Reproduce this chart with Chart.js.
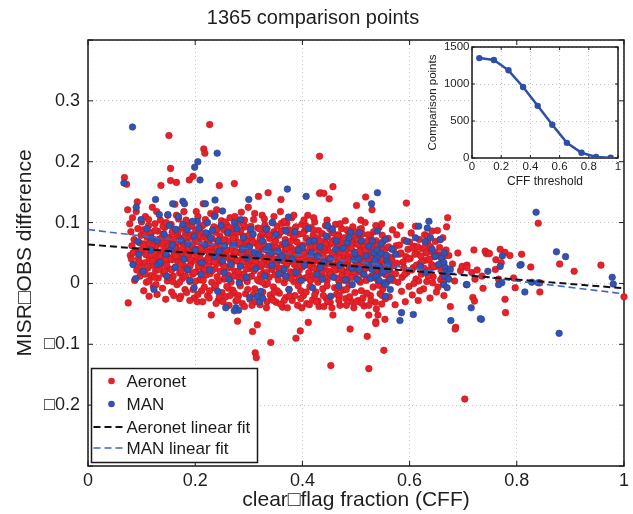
<!DOCTYPE html>
<html><head><meta charset="utf-8">
<script src="https://cdn.jsdelivr.net/npm/chart.js@4.4.0/dist/chart.umd.min.js"></script>
<style>
html,body{margin:0;padding:0;background:#fff;}
#wrap{position:relative;width:633px;height:514px;overflow:hidden;}
#main{position:absolute;left:0;top:0;}
#inset{position:absolute;left:422px;top:36px;}
</style></head><body>
<div id="wrap"><canvas id="main" width="633" height="514"></canvas><canvas id="inset" width="205" height="160"></canvas></div>
<script>
// ---------------- data ----------------
const chartTitle = '1365 comparison points';
const xAxisTitle = 'clear\u25A1flag fraction (CFF)';
const yAxisTitle = 'MISR\u25A1OBS difference';

// [CFF, MISR-OBS difference]
const aeronetPoints = [
[0.068,0.174],[0.072,0.163],[0.075,-0.032],[0.074,0.121],[0.078,0.098],[0.080,0.085],[0.082,0.062],[0.079,0.046],[0.083,0.108],[0.085,0.031],[0.086,0.072],[0.088,0.054],[0.090,0.118],[0.091,0.022],[0.093,0.090],[0.094,0.041],[0.096,0.067],[0.097,0.012],[0.099,0.079],[0.100,0.101],[0.087,0.005],[0.092,0.134],[0.084,0.050],[0.098,0.028],[0.081,0.040],
[0.101,0.052],[0.102,0.018],[0.103,0.088],[0.104,-0.012],[0.105,0.065],[0.106,0.034],[0.107,0.110],[0.108,0.047],[0.109,0.002],[0.110,0.076],[0.111,0.025],[0.112,0.058],[0.113,0.095],[0.114,-0.021],[0.115,0.040],[0.116,0.069],[0.117,0.013],[0.118,0.083],[0.119,0.030],[0.120,0.125],[0.121,0.055],[0.122,-0.005],[0.123,0.072],[0.124,0.038],[0.125,0.098],[0.126,0.021],[0.127,0.061],[0.128,0.044],[0.129,-0.018],[0.130,0.086],[0.131,0.009],[0.132,0.050],[0.133,0.073],[0.134,0.028],[0.135,0.104],[0.136,0.161],[0.137,0.036],[0.138,0.064],[0.139,-0.008],[0.140,0.081],[0.141,0.016],[0.142,0.047],[0.143,0.092],[0.144,0.057],[0.145,-0.026],[0.146,0.033],[0.147,0.069],[0.148,0.004],[0.149,0.112],[0.150,0.043],
[0.151,0.243],[0.154,0.189],[0.154,0.169],[0.165,0.166],[0.151,0.075],[0.152,0.024],[0.153,0.058],[0.155,0.097],[0.156,-0.014],[0.157,0.039],[0.158,0.071],[0.159,0.012],[0.160,0.088],[0.161,0.049],[0.162,0.130],[0.163,0.027],[0.164,0.062],[0.166,-0.002],[0.167,0.080],[0.168,0.035],[0.169,0.106],[0.170,0.053],[0.171,0.017],[0.172,0.074],[0.173,-0.021],[0.174,0.044],[0.175,0.091],[0.176,0.008],[0.177,0.066],[0.178,0.030],[0.179,0.118],[0.180,0.055],[0.181,-0.010],[0.182,0.083],[0.183,0.041],[0.184,-0.015],[0.185,0.069],[0.186,0.022],[0.187,0.100],[0.188,0.048],[0.189,0.170],[0.190,0.003],[0.191,0.077],[0.192,0.033],[0.193,0.060],[0.194,0.094],[0.195,0.015],[0.196,0.176],[0.197,0.051],[0.198,-0.024],[0.199,0.072],[0.200,0.038],
[0.201,0.087],[0.202,0.019],[0.203,0.056],[0.204,-0.030],[0.205,0.110],[0.206,0.043],[0.207,0.068],[0.208,0.006],[0.209,0.031],[0.210,0.092],[0.211,0.050],[0.212,-0.012],[0.213,0.076],[0.214,0.025],[0.215,0.131],[0.216,0.221],[0.218,0.214],[0.217,0.061],[0.219,0.037],[0.220,0.099],[0.221,0.014],[0.222,0.054],[0.223,-0.020],[0.224,0.081],[0.225,0.029],[0.226,0.065],[0.227,0.261],[0.228,0.046],[0.229,0.115],[0.230,-0.052],[0.231,0.002],[0.232,0.073],[0.233,0.036],[0.234,0.090],[0.235,0.058],[0.236,-0.007],[0.237,0.024],[0.238,0.084],[0.239,0.048],[0.240,0.121],[0.241,0.011],[0.242,0.066],[0.243,-0.028],[0.244,0.039],[0.245,0.161],[0.246,0.078],[0.247,0.020],[0.248,0.052],[0.249,0.103],[0.250,-0.015],
[0.251,0.062],[0.252,0.031],[0.253,0.088],[0.254,0.007],[0.255,0.045],[0.256,0.072],[0.257,-0.022],[0.258,0.026],[0.259,0.096],[0.260,0.054],[0.261,0.014],[0.262,0.069],[0.263,-0.036],[0.264,0.040],[0.265,0.108],[0.266,0.081],[0.267,0.002],[0.268,0.033],[0.269,0.059],[0.270,-0.011],[0.271,0.090],[0.272,0.047],[0.273,0.164],[0.274,0.020],[0.275,0.075],[0.276,-0.029],[0.277,0.037],[0.278,0.063],[0.279,-0.062],[0.280,0.100],[0.281,0.010],[0.282,0.051],[0.283,0.084],[0.284,-0.004],[0.285,0.029],[0.286,0.117],[0.287,0.066],[0.288,-0.033],[0.289,0.042],[0.290,0.078],[0.291,0.016],[0.292,0.056],[0.293,0.093],[0.294,-0.017],[0.295,0.035],[0.296,0.070],[0.297,0.003],[0.298,0.048],[0.299,0.125],[0.300,0.024],
[0.301,0.061],[0.302,-0.026],[0.303,0.087],[0.304,0.039],[0.305,0.012],[0.306,0.073],[0.307,-0.079],[0.308,0.050],[0.309,0.105],[0.310,0.021],[0.311,-0.009],[0.312,-0.114],[0.314,-0.122],[0.313,0.066],[0.315,0.034],[0.316,-0.068],[0.317,0.091],[0.318,0.143],[0.319,0.004],[0.320,0.055],[0.321,-0.035],[0.322,0.078],[0.323,0.027],[0.324,0.044],[0.325,0.112],[0.326,-0.014],[0.327,0.068],[0.328,0.017],[0.329,0.038],[0.330,0.096],[0.331,-0.002],[0.332,0.058],[0.333,0.080],[0.334,-0.030],[0.335,0.030],[0.336,0.149],[0.337,0.048],[0.338,0.010],[0.339,0.074],[0.340,-0.019],[0.341,-0.097],[0.342,0.062],[0.343,0.023],[0.344,0.100],[0.345,0.041],[0.346,-0.006],[0.347,0.085],[0.348,0.052],[0.349,0.014],[0.350,0.070],
[0.351,-0.031],[0.352,0.033],[0.353,0.094],[0.354,0.057],[0.355,0.006],[0.356,0.079],[0.357,-0.016],[0.358,0.045],[0.359,0.118],[0.360,0.138],[0.361,0.025],[0.362,0.064],[0.363,-0.039],[0.364,0.037],[0.365,0.088],[0.366,0.001],[0.367,0.053],[0.368,0.072],[0.369,-0.023],[0.370,0.029],[0.371,0.099],[0.372,0.046],[0.373,0.011],[0.374,0.067],[0.375,-0.010],[0.376,0.083],[0.377,0.036],[0.378,0.019],[0.379,0.058],[0.380,0.108],[0.381,-0.028],[0.382,0.042],[0.383,0.075],[0.384,0.003],[0.385,0.031],[0.386,0.090],[0.387,0.050],[0.388,-0.090],[0.389,0.015],[0.390,0.068],[0.391,-0.036],[0.392,0.039],[0.393,0.081],[0.394,0.022],[0.395,0.060],[0.396,-0.078],[0.397,-0.012],[0.398,0.047],[0.399,0.097],[0.400,0.027],
[0.401,0.063],[0.402,-0.020],[0.403,0.034],[0.404,0.086],[0.405,0.009],[0.406,0.052],[0.407,0.074],[0.408,-0.033],[0.409,0.040],[0.410,0.112],[0.411,-0.064],[0.412,0.018],[0.413,0.066],[0.414,-0.005],[0.415,0.046],[0.416,0.092],[0.417,0.028],[0.418,0.057],[0.419,-0.027],[0.420,0.079],[0.421,0.013],[0.422,0.037],[0.423,0.101],[0.424,0.061],[0.425,-0.014],[0.426,0.024],[0.427,0.071],[0.428,0.045],[0.429,0.002],[0.430,0.087],[0.431,-0.038],[0.432,0.209],[0.432,0.148],[0.433,0.032],[0.434,0.149],[0.435,0.059],[0.436,0.016],[0.437,0.082],[0.438,-0.009],[0.439,0.049],[0.440,0.148],[0.441,0.026],[0.442,0.068],[0.443,0.095],[0.444,-0.024],[0.445,0.038],[0.446,0.005],[0.447,0.076],[0.448,0.054],[0.449,0.020],[0.450,0.139],
[0.451,0.064],[0.452,-0.031],[0.453,-0.135],[0.454,0.043],[0.455,0.085],[0.456,0.012],[0.457,0.159],[0.457,-0.052],[0.458,0.030],[0.459,0.071],[0.460,-0.007],[0.461,0.050],[0.462,0.097],[0.463,0.022],[0.464,-0.018],[0.465,0.060],[0.466,0.035],[0.467,0.080],[0.468,0.004],[0.469,0.046],[0.470,-0.036],[0.471,0.068],[0.472,0.027],[0.473,0.090],[0.474,0.014],[0.475,0.055],[0.476,-0.011],[0.477,0.039],[0.478,0.075],[0.479,0.019],[0.480,0.103],[0.481,-0.025],[0.482,0.048],[0.483,0.063],[0.484,0.007],[0.485,0.032],[0.486,0.084],[0.487,-0.003],[0.488,0.057],[0.489,-0.075],[0.490,0.024],[0.491,0.070],[0.492,-0.030],[0.493,0.042],[0.494,0.093],[0.495,0.011],[0.496,0.052],[0.497,0.078],[0.498,-0.015],[0.499,0.036],[0.500,0.065],
[0.501,0.128],[0.502,0.018],[0.503,0.047],[0.504,-0.028],[0.505,0.073],[0.506,0.029],[0.507,0.089],[0.508,0.002],[0.509,0.058],[0.510,-0.012],[0.511,0.038],[0.512,0.081],[0.513,0.015],[0.514,0.063],[0.515,-0.037],[0.516,0.044],[0.517,0.100],[0.518,0.142],[0.519,0.025],[0.520,0.069],[0.521,-0.087],[0.522,0.008],[0.523,0.053],[0.524,-0.140],[0.524,-0.052],[0.525,0.033],[0.526,0.077],[0.527,-0.020],[0.528,0.046],[0.529,0.012],[0.530,0.121],[0.531,0.060],[0.532,-0.006],[0.533,0.085],[0.534,0.027],[0.535,0.041],[0.536,-0.031],[0.537,-0.063],[0.537,-0.066],[0.538,0.070],[0.539,0.019],[0.540,0.055],[0.541,-0.052],[0.542,0.003],[0.543,0.092],[0.544,0.036],[0.545,-0.017],[0.546,0.064],[0.547,0.022],[0.548,0.048],[0.549,0.079],[0.550,-0.009],[0.552,-0.110],[0.553,0.031],[0.554,-0.059],[0.555,0.057],[0.556,0.014],
[0.560,0.074],[0.562,-0.022],[0.564,0.043],[0.566,0.010],[0.568,0.088],[0.571,0.029],[0.573,-0.035],[0.575,0.062],[0.578,0.002],[0.580,0.048],[0.583,0.095],[0.585,-0.013],[0.588,0.035],[0.590,0.071],[0.592,-0.030],[0.594,0.132],[0.595,0.018],[0.597,0.056],[0.599,-0.005],
[0.601,0.041],[0.603,0.083],[0.605,-0.019],[0.607,0.026],[0.609,0.061],[0.611,0.094],[0.612,0.007],[0.614,0.049],[0.616,-0.028],[0.618,0.072],[0.620,0.033],[0.622,0.015],[0.624,0.057],[0.626,-0.009],[0.628,0.080],[0.630,0.038],[0.632,0.003],[0.634,0.066],[0.636,0.022],[0.638,-0.024],[0.640,0.052],[0.642,0.086],[0.644,0.011],[0.646,0.044],[0.648,0.069],[0.650,-0.014],[0.652,0.087],[0.654,0.030],[0.656,0.059],[0.658,0.006],[0.660,0.040],[0.662,0.075],[0.664,-0.020],[0.666,0.025],[0.669,0.093],[0.671,0.108],[0.668,0.055],[0.670,0.012],[0.673,0.046],[0.676,-0.038],[0.686,-0.072],[0.685,-0.075],
[0.680,0.032],[0.684,0.004],[0.690,0.050],[0.695,0.021],[0.698,0.028],[0.703,-0.190],[0.707,0.030],[0.707,0.026],[0.716,0.018],[0.718,-0.023],[0.720,0.055],[0.721,-0.029],[0.722,0.007],[0.726,0.022],[0.735,0.012],[0.737,-0.008],[0.741,0.053],[0.743,0.049],[0.747,0.050],[0.749,0.049],[0.760,0.023],[0.761,0.039],[0.766,0.007],[0.769,0.056],[0.771,0.034],[0.778,0.051],[0.778,-0.026],[0.779,-0.048],[0.787,0.046],[0.794,0.009],[0.797,-0.007],[0.809,0.048],[0.826,0.027],[0.840,0.099],[0.843,-0.014],[0.843,0.001],[0.880,0.032],[0.907,0.020],[0.957,0.030],[1.000,-0.022],
[0.095,0.035],[0.104,0.062],[0.112,0.028],[0.118,0.047],[0.124,0.010],[0.131,0.068],[0.137,0.052],[0.143,0.020],[0.148,0.075],[0.153,0.040],[0.158,0.003],[0.162,0.058],[0.168,0.085],[0.172,0.031],[0.177,0.049],[0.182,0.012],[0.186,0.066],[0.191,0.040],[0.196,-0.010],[0.201,0.070],[0.206,0.028],[0.211,0.058],[0.215,0.005],[0.219,0.079],[0.224,0.042],[0.228,0.016],[0.233,0.060],[0.238,-0.004],[0.242,0.033],[0.246,0.072],[0.251,0.047],[0.256,0.011],[0.260,0.083],[0.264,0.026],[0.269,0.054],[0.273,-0.016],[0.278,0.038],[0.282,0.067],[0.287,0.008],[0.291,0.045],[0.296,0.024],[0.300,0.079],[0.305,0.049],[0.309,-0.018],[0.313,0.036],[0.318,0.060],[0.322,0.014],[0.326,0.084],[0.331,0.040],[0.335,0.000],[0.340,0.053],[0.344,0.026],[0.349,0.068],[0.353,-0.012],[0.358,0.043],[0.362,0.016],[0.367,0.063],[0.371,0.033],[0.376,-0.020],[0.380,0.051],[0.385,0.077],[0.389,0.023],[0.394,0.004],[0.398,0.060],[0.403,0.036],[0.407,-0.014],[0.412,0.046],[0.416,0.071],[0.421,0.025],[0.425,0.008],[0.430,0.054],[0.434,0.032],[0.439,-0.020],[0.443,0.064],[0.448,0.041],[0.452,0.015],[0.457,0.083],[0.461,0.029],[0.466,-0.008],[0.470,0.052],[0.475,0.036],[0.479,0.062],[0.484,0.018],[0.488,-0.022],[0.493,0.045],[0.497,0.027],[0.502,0.071],[0.506,0.005],[0.511,0.050],[0.515,0.024],[0.520,-0.016],[0.524,0.038],[0.529,0.066],[0.533,0.013],[0.538,0.044],[0.542,-0.003],[0.547,0.058],[0.551,0.030],[0.557,0.046],[0.563,0.020],[0.570,0.057],[0.577,0.033],[0.586,0.010],[0.593,0.044],[0.604,0.022],[0.610,0.048],[0.617,0.004],[0.623,0.036],[0.629,0.060],[0.635,0.012],[0.641,0.031],[0.647,0.051],[0.653,-0.006],[0.659,0.022],[0.665,0.045],
[0.098,0.055],[0.107,0.015],[0.116,0.082],[0.121,0.037],[0.127,-0.002],[0.134,0.045],[0.140,0.094],[0.146,0.030],[0.150,0.061],[0.156,0.022],[0.160,0.073],[0.166,0.044],[0.171,0.002],[0.175,0.056],[0.180,0.096],[0.184,0.025],[0.189,0.052],[0.194,0.080],[0.198,0.018],[0.203,0.044],[0.208,0.086],[0.213,0.034],[0.217,-0.006],[0.222,0.066],[0.226,0.050],[0.231,0.021],[0.235,0.093],[0.240,0.058],[0.244,0.004],[0.249,0.037],[0.253,0.070],[0.258,0.045],[0.262,-0.008],[0.267,0.028],[0.271,0.075],[0.276,0.052],[0.280,0.019],[0.285,0.087],[0.289,0.035],[0.294,0.060],[0.298,-0.010],[0.303,0.029],[0.307,0.067],[0.311,0.044],[0.316,0.006],[0.320,0.090],[0.324,0.032],[0.329,0.056],[0.333,0.018],[0.338,0.080],[0.342,0.039],[0.347,-0.015],[0.351,0.059],[0.356,0.024],[0.360,0.085],[0.365,0.047],[0.369,0.008],[0.374,0.038],[0.378,0.069],[0.383,0.017],[0.387,0.055],[0.392,-0.004],[0.396,0.030],[0.401,0.082],[0.405,0.045],[0.410,0.010],[0.414,0.061],[0.419,0.034],[0.423,-0.019],[0.428,0.075],[0.432,0.040],[0.437,0.020],[0.441,0.056],[0.446,-0.004],[0.450,0.033],[0.455,0.067],[0.459,0.043],[0.464,0.009],[0.468,0.078],[0.473,0.023],[0.477,0.050],[0.482,-0.010],[0.486,0.039],[0.491,0.059],[0.495,0.016],[0.500,0.040],[0.504,0.064],[0.509,0.020],[0.513,-0.024],[0.518,0.054],[0.522,0.030],[0.527,0.078],[0.531,0.041],[0.536,0.009],[0.540,0.062],[0.545,0.027],[0.549,-0.020],[0.554,0.040],[0.559,0.003],[0.567,0.039],[0.574,0.016],[0.581,0.063],[0.589,0.026],[0.598,0.040],[0.606,0.058],[0.613,0.030],[0.619,-0.012],[0.625,0.020],[0.631,0.050],[0.637,0.040],[0.643,0.001],[0.649,0.028],[0.655,0.047],[0.661,0.010],
[0.106,0.080],[0.114,0.004],[0.119,0.061],[0.125,0.087],[0.132,0.023],[0.138,0.075],[0.144,0.039],[0.151,0.010],[0.157,0.084],[0.163,0.045],[0.169,0.068],[0.174,0.020],[0.179,0.075],[0.185,0.047],[0.190,0.028],[0.195,0.063],[0.200,0.003],[0.205,0.078],[0.210,0.040],[0.214,0.095],[0.218,0.022],[0.223,0.071],[0.227,-0.012],[0.232,0.050],[0.236,0.035],[0.241,0.089],[0.245,-0.022],[0.250,0.060],[0.254,0.028],[0.259,-0.005],[0.263,0.092],[0.268,0.043],[0.272,0.012],[0.277,0.085],[0.281,-0.020],[0.286,0.049],[0.290,0.097],[0.295,0.058],[0.299,0.010],[0.304,0.094],[0.308,0.028],[0.312,-0.030],[0.317,0.050],[0.321,0.073],[0.325,0.002],[0.330,0.062],[0.334,0.090],[0.339,0.035],[0.343,-0.025],[0.348,0.040],[0.352,0.081],[0.357,0.020],[0.361,0.099],[0.366,-0.028],[0.370,0.058],[0.375,0.088],[0.379,0.008],[0.384,0.045],[0.388,0.093],[0.393,0.012],[0.397,-0.025],[0.402,0.050],[0.406,0.095],[0.411,0.030],[0.415,0.005],[0.420,0.088],[0.424,0.044],[0.429,-0.029],[0.433,0.070],[0.438,0.058],[0.442,0.010],[0.447,-0.030],[0.451,0.090],[0.456,0.050],[0.460,0.022],[0.465,0.077],[0.469,-0.020],[0.474,0.063],[0.478,0.005],[0.483,0.088],[0.487,0.027],[0.492,0.010],[0.496,0.085],[0.501,-0.030],[0.505,0.052],[0.510,0.090],[0.514,0.035],[0.519,0.005],[0.523,0.080],[0.528,-0.028],[0.532,0.030],[0.537,0.095],[0.541,0.015],[0.546,0.040],[0.550,0.068],[0.555,-0.025],[0.561,0.060],[0.569,0.005],[0.576,0.080],[0.584,0.050],[0.591,0.015],[0.600,0.068],[0.608,0.000],[0.615,0.060],[0.621,0.045],[0.627,0.025],[0.633,0.078],[0.639,0.060],[0.645,0.027],[0.651,0.045],[0.657,0.072],[0.663,0.002],
[0.205,-0.018],[0.214,-0.030],[0.226,-0.024],[0.239,-0.033],[0.252,-0.030],[0.265,-0.020],[0.279,-0.026],[0.292,-0.038],[0.306,-0.036],[0.319,-0.022],[0.333,-0.040],[0.346,-0.028],[0.359,-0.034],[0.372,-0.040],[0.386,-0.020],[0.399,-0.040],[0.413,-0.035],[0.426,-0.030],[0.440,-0.038],[0.455,-0.040],[0.468,-0.028],[0.482,-0.036],[0.496,-0.040],[0.510,-0.032],[0.524,-0.036],[0.538,-0.042],[0.548,-0.034],[0.171,-0.025],[0.160,-0.020],[0.190,-0.028],
[0.113,0.105],[0.128,0.118],[0.146,0.100],[0.165,0.112],[0.183,0.104],[0.202,0.118],[0.219,0.105],[0.237,0.112],[0.256,0.101],[0.274,0.110],[0.292,0.104],[0.311,0.115],[0.329,0.106],[0.347,0.110],[0.366,0.102],[0.384,0.112],[0.403,0.104],[0.421,0.108],[0.446,0.104],[0.470,0.098],[0.509,0.104],[0.548,0.098]
];

const manPoints = [
[0.083,0.257],[0.241,0.214],[0.205,0.200],[0.199,0.191],[0.209,0.170],[0.067,0.165],[0.372,0.155],[0.407,0.143],[0.126,0.138],[0.090,0.125],[0.084,0.031],[0.089,0.008],[0.276,-0.040],[0.281,-0.044],[0.320,-0.030],[0.326,-0.024],[0.540,0.149],[0.529,0.131],[0.374,0.109],[0.836,0.117],[0.636,0.102],[0.633,0.091],[0.874,0.052],[0.891,0.044],[0.978,0.010],[0.980,-0.001],[0.879,-0.082],[0.815,-0.014],[0.828,0.002],[0.773,0.045],[0.808,0.031],[0.715,-0.040],[0.734,-0.059],[0.677,-0.061],[0.706,-0.002],[0.585,-0.048],[0.582,-0.061],[0.607,-0.051],[0.746,0.020],[0.769,0.028],[0.772,0.001],[0.806,0.030],[0.840,0.001],[0.766,-0.002],
[0.158,0.131],[0.177,0.135],[0.180,0.131],[0.219,0.131],[0.237,0.137],[0.300,0.138],[0.099,0.105],[0.133,0.113],[0.149,0.113],[0.093,0.069],[0.118,0.075],[0.130,0.031],[0.146,0.048],[0.155,0.056],[0.204,0.102],[0.236,0.110],[0.251,0.119],[0.186,0.064],[0.198,0.078],[0.220,0.083],[0.229,0.075],[0.245,0.053],[0.251,0.037],[0.254,0.018],[0.186,0.023],[0.198,-0.007],[0.211,0.015],[0.242,-0.013],[0.263,0.007],[0.282,0.001],[0.257,-0.040],[0.273,-0.045],[0.302,-0.023],[0.316,-0.021],[0.322,-0.013],[0.164,0.089],[0.177,0.097],[0.273,0.100],[0.285,0.105],[0.304,0.089],[0.288,0.056],[0.297,0.042],[0.310,0.050],
[0.332,0.089],[0.344,0.100],[0.369,0.086],[0.332,0.056],[0.341,0.050],[0.354,0.053],[0.357,0.039],[0.366,0.023],[0.369,0.012],[0.388,0.018],[0.400,0.059],[0.413,0.069],[0.428,0.045],[0.434,0.026],[0.437,0.007],[0.419,-0.007],[0.453,-0.021],[0.468,-0.004],[0.444,0.078],[0.456,0.089],[0.462,0.056],[0.484,0.067],[0.490,0.084],[0.506,0.083],[0.496,0.039],[0.506,0.023],[0.502,0.007],[0.493,-0.002],[0.524,0.061],[0.533,0.050],[0.540,0.042],[0.543,0.028],[0.549,0.017],[0.552,0.001],[0.555,-0.021],[0.530,0.023],[0.537,0.012],[0.546,0.050],[0.558,0.037],[0.561,0.023],[0.564,0.007],[0.567,0.056],[0.540,0.086],[0.555,0.072],[0.555,-0.002],[0.564,-0.010],[0.595,0.069],[0.611,0.075],[0.617,0.094],[0.629,0.069],[0.642,0.056],[0.648,0.045],[0.620,0.028],[0.630,0.018],[0.574,0.048],
[0.660,0.042],[0.664,0.034],[0.667,0.026],[0.670,0.020],[0.665,0.012],[0.673,0.007],[0.664,-0.002],[0.670,-0.007],[0.676,0.023],[0.654,0.031],[0.639,0.075],[0.657,0.072],[0.664,0.050],[0.732,-0.058],[0.707,-0.002],
[0.095,0.048],[0.103,0.020],[0.110,0.090],[0.117,0.055],[0.123,-0.010],[0.129,0.070],[0.135,0.035],[0.142,0.081],[0.147,0.012],[0.152,0.095],[0.157,0.063],[0.163,0.026],[0.169,0.110],[0.174,0.071],[0.179,0.040],[0.185,0.088],[0.190,0.005],[0.195,0.102],[0.200,0.055],[0.207,0.091],[0.212,0.034],[0.218,0.064],[0.223,0.100],[0.227,0.022],[0.232,0.087],[0.237,0.045],[0.243,0.070],[0.248,0.095],[0.255,0.062],[0.261,0.084],[0.266,0.032],[0.272,0.064],[0.278,0.090],[0.284,0.028],[0.290,0.075],[0.295,0.010],[0.301,0.060],[0.308,0.081],[0.313,0.024],[0.319,0.047],[0.325,0.070],[0.330,0.012],[0.337,0.060],[0.343,0.030],[0.350,0.080],[0.356,0.016],[0.362,0.045],[0.368,0.066],[0.375,-0.010],[0.381,0.040],[0.386,0.085],[0.392,0.055],[0.398,0.005],[0.404,0.030],[0.411,0.090],[0.417,0.050],[0.422,0.070],[0.427,0.015],[0.433,0.060],[0.440,0.035],[0.447,0.095],[0.452,0.040],[0.458,0.010],[0.463,0.070],[0.470,0.030],[0.476,0.058],[0.481,0.006],[0.487,0.075],[0.492,0.025],[0.498,0.050],[0.505,0.040],[0.510,0.070],[0.515,0.015],[0.519,0.045],[0.523,0.030],[0.527,0.008],[0.531,0.070],[0.535,0.038],[0.539,0.055],[0.543,0.005],[0.547,0.065],[0.551,0.020],[0.556,0.046],[0.560,0.032]
];

// linear fits: value at CFF = 0 and CFF = 1
const fitCFF = [0, 1];
const aeronetFit = [0.064, -0.008];
const manFit = [0.0885, -0.017];

// inset: comparison points vs CFF threshold
const insetThreshold = [0.05, 0.15, 0.25, 0.35, 0.45, 0.55, 0.65, 0.75, 0.85, 0.95];
const insetCount = [1350, 1325, 1185, 960, 705, 450, 205, 70, 15, 5];

// ---------------- rendering ----------------
const FONT = '"Liberation Sans", Arial, Helvetica, "DejaVu Sans", sans-serif';
Chart.defaults.font.family = FONT;
Chart.defaults.color = '#1e1e1e';

const RED = '#e5222a', RED_EDGE = '#c4141b';
const BLUE = '#3552ae', BLUE_EDGE = '#26408f';
const toXY = arr => arr.map(p => ({x: p[0], y: p[1]}));
const plainNum = v => String(Math.round(v * 10) / 10);

const frame = {
  id: 'frame',
  beforeDraw(chart, args, o) {
    if (!o.fillArea) return;
    const {ctx, chartArea: a} = chart;
    ctx.save(); ctx.fillStyle = '#fff';
    ctx.fillRect(a.left, a.top, a.right - a.left, a.bottom - a.top);
    ctx.restore();
  },
  beforeDatasetsDraw(chart, args, o) {
    const {ctx, chartArea: a, scales} = chart;
    ctx.save();
    ctx.strokeStyle = '#1a1a1a';
    ctx.lineWidth = 1;
    ctx.beginPath();
    const L = o.len;
    scales.x.ticks.forEach(t => {
      const px = scales.x.getPixelForValue(t.value);
      ctx.moveTo(px, a.bottom); ctx.lineTo(px, a.bottom - L);
      ctx.moveTo(px, a.top); ctx.lineTo(px, a.top + L);
    });
    scales.y.ticks.forEach(t => {
      const py = scales.y.getPixelForValue(t.value);
      ctx.moveTo(a.left, py); ctx.lineTo(a.left + L, py);
      ctx.moveTo(a.right, py); ctx.lineTo(a.right - L, py);
    });
    ctx.stroke();
    ctx.lineWidth = o.width;
    ctx.strokeRect(a.left, a.top, a.right - a.left, a.bottom - a.top);
    ctx.restore();
  }
};

const boxLegend = {
  id: 'boxLegend',
  afterDatasetsDraw(chart, args, o) {
    if (!o.items) return;
    const ctx = chart.ctx, ds = chart.data.datasets;
    ctx.save();
    ctx.fillStyle = '#fff';
    ctx.fillRect(o.x, o.y, o.w, o.h);
    ctx.strokeStyle = '#1a1a1a'; ctx.lineWidth = 1.5;
    ctx.strokeRect(o.x, o.y, o.w, o.h);
    ctx.font = o.font; ctx.textBaseline = 'middle'; ctx.textAlign = 'left';
    o.items.forEach((idx, i) => {
      const d = ds[idx], yy = o.y + o.rows[i];
      if (d.type === 'line') {
        ctx.save();
        ctx.strokeStyle = d.borderColor; ctx.lineWidth = d.borderWidth;
        ctx.setLineDash(d.borderDash);
        ctx.beginPath(); ctx.moveTo(o.x + 2, yy); ctx.lineTo(o.x + 33, yy); ctx.stroke();
        ctx.restore();
      } else {
        ctx.beginPath(); ctx.arc(o.x + 20, yy, d.pointRadius, 0, Math.PI * 2);
        ctx.fillStyle = d.backgroundColor; ctx.fill();
      }
      ctx.fillStyle = '#1a1a1a';
      ctx.fillText(d.label, o.x + 35, yy + 1);
    });
    ctx.restore();
  }
};

const gridStyle = {color: '#c4c4c4', lineWidth: 1, drawTicks: false};
const borderStyle = {display: false, dash: [1, 3]};

new Chart(document.getElementById('main'), {
  type: 'scatter',
  data: {
    datasets: [
      {type: 'line', label: 'Aeronet linear fit', data: fitCFF.map((x, i) => ({x, y: aeronetFit[i]})),
       borderColor: '#111', borderWidth: 2, borderDash: [7, 4], pointRadius: 0, fill: false, order: 0, clip: false},
      {type: 'line', label: 'MAN linear fit', data: fitCFF.map((x, i) => ({x, y: manFit[i]})),
       borderColor: '#3d67c4', borderWidth: 1.6, borderDash: [7, 4], pointRadius: 0, fill: false, order: 0, clip: false},
      {label: 'MAN', data: toXY(manPoints), backgroundColor: BLUE, borderColor: BLUE_EDGE, borderWidth: 0.6,
       pointRadius: 3.3, order: 1, clip: false},
      {label: 'Aeronet', data: toXY(aeronetPoints), backgroundColor: RED, borderColor: RED_EDGE, borderWidth: 0.6,
       pointRadius: 3.3, order: 2, clip: false}
    ]
  },
  options: {
    responsive: false, animation: false, devicePixelRatio: 1, events: [],
    layout: {padding: {left: 0, right: 7, top: 0, bottom: 0}},
    plugins: {
      legend: {display: false}, tooltip: {enabled: false},
      title: {display: true, text: chartTitle, color: '#1e1e1e',
              font: {size: 20, weight: 'normal', family: FONT}, padding: {top: 6, bottom: 10}},
      frame: {len: 5, width: 1.5},
      boxLegend: {x: 91.5, y: 368.5, w: 166, h: 94, rows: [12.5, 35.5, 58.5, 79.5],
                  items: [3, 2, 0, 1], font: '17px ' + FONT}
    },
    scales: {
      x: {type: 'linear', min: 0, max: 1,
          ticks: {stepSize: 0.2, padding: 4, color: '#1e1e1e', font: {size: 18}, maxRotation: 0, autoSkip: false,
                  callback: plainNum},
          grid: gridStyle, border: borderStyle,
          title: {display: true, text: xAxisTitle, color: '#1e1e1e', font: {size: 21}, padding: {top: 0, bottom: 1}},
          afterFit(s) { s.height = 48; }},
      y: {type: 'linear', min: -0.3, max: 0.4,
          ticks: {stepSize: 0.1, padding: 8, color: '#1e1e1e', font: {size: 18},
                  callback(v) {
                    const r = Math.round(v * 10) / 10;
                    if (r <= -0.3 || r >= 0.4) return '';
                    if (r === 0) return '0';
                    return (r < 0 ? '\u25A1' : '') + Math.abs(r).toFixed(1);
                  }},
          grid: gridStyle, border: borderStyle,
          title: {display: true, text: yAxisTitle, color: '#1e1e1e', font: {size: 21}, padding: {top: 13, bottom: 0}},
          afterFit(s) { s.width = 88; }}
    }
  },
  plugins: [frame, boxLegend]
});

new Chart(document.getElementById('inset'), {
  type: 'line',
  data: {
    datasets: [{label: 'Comparison points', data: insetThreshold.map((x, i) => ({x, y: insetCount[i]})),
      borderColor: '#2f4ea6', backgroundColor: '#2f4ea6', borderWidth: 2.5, pointRadius: 3.2,
      pointBorderWidth: 0, tension: 0, fill: false}]
  },
  options: {
    responsive: false, animation: false, devicePixelRatio: 1, events: [],
    layout: {padding: {left: 0, right: 9, top: 11, bottom: 0}},
    plugins: {legend: {display: false}, tooltip: {enabled: false}, title: {display: false},
              frame: {len: 3, width: 1.5, fillArea: true}},
    scales: {
      x: {type: 'linear', min: 0, max: 1,
          ticks: {stepSize: 0.2, padding: 2, color: '#1e1e1e', font: {size: 11.5}, maxRotation: 0, autoSkip: false,
                  callback: plainNum},
          grid: gridStyle, border: borderStyle,
          title: {display: true, text: 'CFF threshold', color: '#1e1e1e', font: {size: 12}, padding: {top: 0, bottom: 7}},
          afterFit(s) { s.height = 38; }},
      y: {type: 'linear', min: 0, max: 1500,
          ticks: {stepSize: 500, padding: 2.5, color: '#1e1e1e', font: {size: 11.5}, callback: v => String(v)},
          grid: gridStyle, border: borderStyle,
          title: {display: true, text: 'Comparison points', color: '#1e1e1e', font: {size: 11.5}, padding: {top: 4, bottom: 0}},
          afterFit(s) { s.width = 50; }}
    }
  },
  plugins: [frame]
});
</script>
</body></html>
